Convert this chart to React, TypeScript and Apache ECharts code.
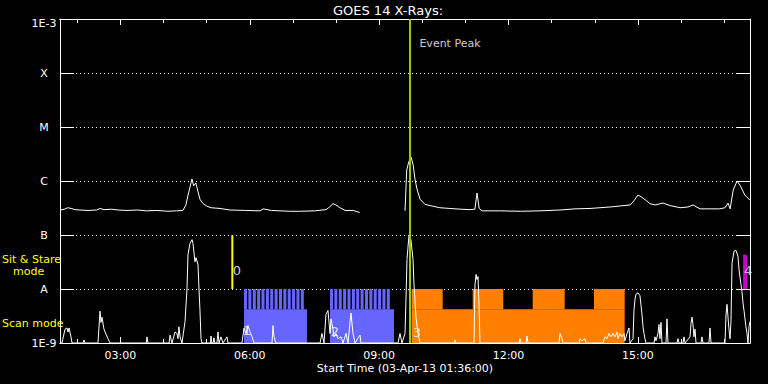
import React, { useEffect, useRef } from 'react';
import * as echarts from 'echarts';

const TITLE = 'GOES 14 X-Rays:';
const X_NAME = 'Start Time (03-Apr-13 01:36:00)';
const X_MIN = 1.6; // 01:36 in hours
const X_MAX = 17.6;
const MAJOR_HOURS = [3, 6, 9, 12, 15];
const MINOR_HOURS = [2, 4, 5, 7, 8, 10, 11, 13, 14, 16, 17];
const Y_MIN = 1e-9;
const Y_MAX = 1e-3;
const Y_LABELS = ['1E-9', 'A', 'B', 'C', 'M', 'X', '1E-3'];

// GOES long channel (1-8 A) flux, [hour, W/m^2]
const longChannel: any[] = [
  [1.60, 2.9e-7], [1.70, 3.0e-7], [1.78, 3.2e-7], [1.86, 3.1e-7], [1.95, 2.95e-7], [2.06, 2.9e-7],
  [2.25, 2.85e-7], [2.45, 2.9e-7], [2.53, 3.1e-7], [2.62, 2.95e-7], [2.80, 3.0e-7], [2.95, 2.9e-7],
  [3.15, 2.85e-7], [3.40, 2.9e-7], [3.60, 2.8e-7], [3.85, 2.85e-7], [4.10, 2.75e-7], [4.30, 2.8e-7],
  [4.45, 2.85e-7], [4.52, 3.6e-7], [4.57, 5.5e-7], [4.61, 7.5e-7], [4.66, 1.09e-6], [4.70, 8.1e-7],
  [4.75, 9.2e-7], [4.80, 6.3e-7], [4.85, 4.5e-7], [4.92, 3.8e-7], [5.01, 3.4e-7], [5.10, 3.2e-7],
  [5.31, 3.1e-7], [5.54, 2.9e-7], [5.90, 2.85e-7], [6.24, 2.8e-7], [6.31, 3.05e-7], [6.40, 2.95e-7],
  [6.50, 2.85e-7], [6.70, 2.8e-7], [6.95, 2.75e-7], [7.17, 2.75e-7], [7.50, 2.8e-7], [7.77, 2.95e-7],
  [7.85, 3.3e-7], [7.93, 3.8e-7], [8.00, 3.6e-7], [8.09, 3.2e-7], [8.21, 2.85e-7], [8.40, 2.85e-7],
  [8.55, 2.6e-7], [9.0, '-'], [9.60, 2.8e-7], [9.64, 1.6e-6], [9.69, 2.3e-6], [9.74, 2.77e-6],
  [9.79, 1.97e-6], [9.83, 1.1e-6], [9.88, 7.0e-7], [9.95, 4.6e-7], [10.06, 3.7e-7], [10.18, 3.5e-7],
  [10.41, 3.2e-7], [10.64, 3.1e-7], [10.90, 3.0e-7], [11.11, 2.95e-7], [11.22, 3.0e-7], [11.27, 6.0e-7],
  [11.32, 3.1e-7], [11.39, 2.8e-7], [11.80, 2.8e-7], [12.27, 2.75e-7], [12.73, 2.8e-7], [13.19, 2.9e-7],
  [13.54, 3.05e-7], [13.89, 3.1e-7], [14.12, 3.2e-7], [14.35, 3.3e-7], [14.59, 3.45e-7], [14.82, 3.6e-7],
  [14.91, 4.3e-7], [15.00, 5.5e-7], [15.09, 5.0e-7], [15.17, 4.5e-7], [15.28, 3.8e-7], [15.40, 3.6e-7],
  [15.58, 3.9e-7], [15.75, 3.5e-7], [15.98, 3.2e-7], [16.16, 3.3e-7], [16.28, 3.6e-7], [16.44, 3.05e-7],
  [16.67, 3.05e-7], [16.90, 3.05e-7], [17.02, 3.2e-7], [17.09, 3.9e-7], [17.14, 3.05e-7], [17.21, 6.8e-7],
  [17.30, 1.0e-6], [17.37, 8.3e-7], [17.48, 5.5e-7], [17.60, 4.4e-7],
];

// GOES short channel (0.5-4 A) flux, [hour, W/m^2]
const shortChannel: any[] = [
  [1.60, 1e-9], [1.646, 1e-9], [1.716, 1.8e-9], [1.762, 1.9e-9], [1.785, 1.6e-9], [1.809, 1.9e-9],
  [1.855, 1.3e-9], [1.878, 1e-9], [2.13, 1e-9], [2.157, 1.14e-9], [2.18, 1e-9], [2.481, 1e-9],
  [2.528, 3.9e-9], [2.551, 2.4e-9], [2.574, 3.0e-9], [2.620, 1.8e-9], [2.667, 1.46e-9], [2.713, 1.2e-9],
  [2.759, 1e-9], [3.60, 1e-9], [3.617, 1.3e-9], [3.64, 1e-9], [4.13, 1e-9], [4.151, 1.4e-9],
  [4.197, 1e-9], [4.267, 1.6e-9], [4.313, 1.5e-9], [4.336, 1.2e-9], [4.359, 2.0e-9], [4.383, 1.3e-9],
  [4.429, 1e-9], [4.499, 2.5e-9], [4.545, 1e-8], [4.568, 4.3e-8], [4.614, 7e-8], [4.661, 8.2e-8],
  [4.684, 7e-8], [4.730, 3.2e-8], [4.754, 3.8e-8], [4.800, 2.8e-8], [4.823, 1e-8], [4.846, 4e-9],
  [4.870, 1.2e-9], [4.893, 1e-9], [5.09, 1e-9], [5.101, 1.35e-9], [5.12, 1e-9], [5.15, 1e-9],
  [5.171, 1.25e-9], [5.19, 1e-9], [5.24, 1e-9], [5.264, 1.6e-9], [5.287, 1e-9], [5.333, 1.3e-9],
  [5.380, 1e-9], [5.472, 1.3e-9], [5.496, 1e-9], [5.820, 1e-9], [5.867, 1.9e-9], [5.913, 1.5e-9],
  [5.959, 2.1e-9], [6.006, 1.6e-9], [6.052, 1.3e-9], [6.099, 1e-9], [6.516, 1e-9], [6.539, 2.1e-9],
  [6.562, 1.3e-9], [6.609, 1e-9], [7.629, 1e-9], [7.675, 1.5e-9], [7.722, 1e-9], [7.768, 3.4e-9],
  [7.814, 4e-9], [7.861, 1.5e-9], [7.884, 2.8e-9], [7.930, 1.8e-9], [7.954, 1.3e-9], [8.000, 1.5e-9],
  [8.046, 1.2e-9], [8.116, 1.3e-9], [8.162, 1e-9], [8.232, 1.5e-9], [8.278, 1e-9], [8.348, 3.6e-9],
  [8.394, 1.5e-9], [8.441, 1e-9], [8.557, 1.4e-9], [8.580, 1e-9], [9.438, 1e-9], [9.484, 1.5e-9],
  [9.530, 1e-9], [9.600, 1.5e-9], [9.623, 6.5e-9], [9.646, 3.5e-8], [9.693, 1.0e-7], [9.739, 8e-8],
  [9.786, 3.5e-8], [9.809, 1.2e-8], [9.855, 3e-9], [9.901, 1.5e-9], [9.948, 1e-9], [10.74, 1e-9],
  [10.759, 1.15e-9], [10.78, 1e-9], [11.200, 1e-9], [11.223, 1.2e-8], [11.247, 1.86e-8], [11.270, 1.5e-8],
  [11.293, 1.7e-8], [11.316, 5e-9], [11.339, 1e-9], [12.25, 1e-9], [12.267, 1.2e-9], [12.29, 1e-9],
  [12.406, 1e-9], [12.429, 1.35e-9], [12.452, 1e-9], [13.171, 1e-9], [13.194, 1.5e-9], [13.241, 1.2e-9],
  [13.264, 1e-9], [13.635, 1e-9], [13.658, 1.2e-9], [13.704, 1.1e-9], [13.774, 1.2e-9], [13.797, 1e-9],
  [14.191, 1e-9], [14.238, 1.3e-9], [14.284, 1.2e-9], [14.330, 1.5e-9], [14.377, 1.3e-9], [14.423, 1.5e-9],
  [14.470, 1.3e-9], [14.516, 1.6e-9], [14.539, 1.2e-9], [14.586, 1.5e-9], [14.632, 1.3e-9], [14.678, 1.5e-9],
  [14.701, 1.1e-9], [14.748, 1.5e-9], [14.794, 1.9e-9], [14.817, 1e-9], [14.887, 1.2e-9], [14.910, 4e-9],
  [14.933, 6.5e-9], [14.956, 8e-9], [15.003, 8.5e-9], [15.049, 7.5e-9], [15.072, 5e-9], [15.096, 3.4e-9],
  [15.119, 2e-9], [15.142, 1.5e-9], [15.165, 1.2e-9], [15.188, 1e-9], [15.374, 1e-9], [15.397, 1.3e-9],
  [15.420, 1.1e-9], [15.467, 1.5e-9], [15.490, 2.2e-9], [15.513, 1.2e-9], [15.536, 2.4e-9], [15.559, 1e-9],
  [15.652, 1e-9], [15.675, 2.8e-9], [15.698, 1e-9], [15.907, 1e-9], [15.930, 1.2e-9], [15.953, 1e-9],
  [16.046, 1e-9], [16.070, 1.3e-9], [16.093, 1e-9], [16.209, 1.3e-9], [16.232, 2.3e-9], [16.255, 3e-9],
  [16.278, 2.2e-9], [16.301, 1.3e-9], [16.325, 1.8e-9], [16.348, 1e-9], [16.464, 1e-9], [16.487, 1.3e-9],
  [16.510, 1e-9], [16.649, 1e-9], [16.673, 1.9e-9], [16.696, 1e-9], [17.020, 1e-9], [17.043, 3.3e-9],
  [17.067, 5.2e-9], [17.090, 3e-9], [17.113, 1.8e-9], [17.136, 1.2e-9], [17.159, 2.5e-9], [17.183, 3e-8],
  [17.229, 5e-8], [17.275, 5.2e-8], [17.322, 4e-8], [17.345, 2.3e-8], [17.391, 1.2e-8], [17.414, 9e-9],
  [17.438, 5.5e-9], [17.461, 4e-9], [17.484, 2.8e-9], [17.507, 2e-9], [17.530, 1.5e-9], [17.554, 1e-9],
  [17.577, 2e-9], [17.600, 2.5e-9],
];

// Observation mode bars (hours) and their levels
const MODE_BASE = 1e-9;
const MODE_LOW = 4.2e-9;
const MODE_HIGH = 1e-8;
const STARE_TOP = 4.3e-8;
const TOOTH_WIDTH = 0.07;
const scanBlocks = [[5.867, 7.327], [7.861, 9.345]];
const scanTeeth = [
  5.867, 5.968, 6.070, 6.171, 6.272, 6.374, 6.475, 6.576, 6.678, 6.779, 6.880, 6.982, 7.083, 7.184,
  7.861, 7.962, 8.064, 8.165, 8.266, 8.368, 8.469, 8.570, 8.672, 8.773, 8.874, 8.976, 9.077, 9.178,
];
const orangeBlocks = [[9.753, 14.694]];
const orangeHigh = [[9.753, 10.474], [11.170, 11.879], [12.561, 13.303], [13.983, 14.694]];
const stareBlocks = [[17.44, 17.53]];

const sitStareMarker = 5.596; // hour
const eventPeak = 9.716; // hour

const eventNumbers: any[] = [
  [5.704, 2.16e-8, '0'],
  [5.936, 1.73e-9, '1'],
  [7.977, 1.66e-9, '2'],
  [9.878, 1.56e-9, '3'],
  [17.554, 2.2e-8, '4'],
];
const eventPeakLabel: any[] = [[10.643, 3.47e-4, 'Event Peak']];

const FONT = 'DejaVu Sans';

function rectRenderer(color: string) {
  return (params: any, api: any) => {
    const a = api.coord([api.value(0), api.value(3)]);
    const b = api.coord([api.value(1), api.value(2)]);
    return {
      type: 'rect',
      shape: { x: a[0], y: a[1], width: b[0] - a[0], height: b[1] - a[1] },
      style: { fill: color },
    };
  };
}

export default function App() {
  const ref = useRef<HTMLDivElement>(null);

  useEffect(() => {
    if (!ref.current) return;
    const chart = echarts.init(ref.current, null, { renderer: 'svg' });

    const pad = (n: number) => (n < 10 ? '0' + n : '' + n);
    const xCommon = {
      type: 'value',
      min: X_MIN,
      max: X_MAX,
      splitLine: { show: false },
      axisLine: { show: true, lineStyle: { color: '#fff', width: 1 } },
    };
    const yLabel = (v: number) => {
      const idx = Math.round(Math.log10(v)) + 9;
      if (idx >= 6) return '';
      return '{n|' + (Y_LABELS[idx] ?? '') + '}';
    };

    const blueData = scanBlocks
      .map(([s, e]) => [s, e, MODE_BASE, MODE_LOW])
      .concat(scanTeeth.map((s) => [s, s + TOOTH_WIDTH, MODE_LOW, MODE_HIGH]));
    const orangeData = orangeBlocks
      .map(([s, e]) => [s, e, MODE_BASE, MODE_LOW])
      .concat(orangeHigh.map(([s, e]) => [s, e, MODE_LOW, MODE_HIGH]));
    const magentaData = stareBlocks.map(([s, e]) => [s, e, MODE_HIGH, STARE_TOP]);

    chart.setOption({
      animation: false,
      backgroundColor: '#000',
      grid: { left: 60, top: 19, width: 690, height: 324 },
      xAxis: [
        {
          ...xCommon,
          position: 'bottom',
          axisTick: { show: true, inside: true, length: 6, customValues: MAJOR_HOURS, lineStyle: { color: '#fff' } },
          axisLabel: {
            show: true,
            customValues: MAJOR_HOURS,
            formatter: (v: number) => pad(Math.round(v)) + ':00',
            color: '#fff',
            fontSize: 11,
            fontFamily: FONT,
            margin: 7,
          },
        },
        {
          ...xCommon,
          position: 'top',
          axisTick: { show: true, inside: true, length: 6, customValues: MAJOR_HOURS, lineStyle: { color: '#fff' } },
          axisLabel: { show: false },
        },
        {
          ...xCommon,
          position: 'bottom',
          axisTick: { show: true, inside: true, length: 4, customValues: MINOR_HOURS, lineStyle: { color: '#fff' } },
          axisLabel: { show: false },
        },
        {
          ...xCommon,
          position: 'top',
          axisTick: { show: true, inside: true, length: 4, customValues: MINOR_HOURS, lineStyle: { color: '#fff' } },
          axisLabel: { show: false },
        },
      ],
      yAxis: [
        {
          type: 'log',
          logBase: 10,
          min: Y_MIN,
          max: Y_MAX,
          position: 'left',
          axisLine: { show: true, lineStyle: { color: '#fff' } },
          axisTick: { show: true, inside: true, length: 14, lineStyle: { color: '#fff' } },
          axisLabel: {
            formatter: yLabel,
            color: '#ffffff',
            fontSize: 11,
            fontFamily: FONT,
            align: 'center',
            margin: 16,
            showMinLabel: true,
            showMaxLabel: true,
            rich: { n: { color: '#ffffff', fontSize: 11, fontFamily: FONT } },
          },
          splitLine: { show: true, lineStyle: { color: '#fff', type: [1, 3], width: 1 } },
        },
        {
          type: 'log',
          logBase: 10,
          min: Y_MIN,
          max: Y_MAX,
          position: 'right',
          axisLine: { show: true, lineStyle: { color: '#fff' } },
          axisTick: { show: true, inside: true, length: 14, lineStyle: { color: '#fff' } },
          axisLabel: { show: false },
          splitLine: { show: false },
        },
      ],
      series: [
        {
          type: 'custom',
          name: 'scan',
          renderItem: rectRenderer('#6666ff'),
          data: blueData,
          encode: { x: [0, 1], y: [2, 3] },
          clip: true,
          z: 1,
        },
        {
          type: 'custom',
          name: 'orange',
          renderItem: rectRenderer('#ff8000'),
          data: orangeData,
          encode: { x: [0, 1], y: [2, 3] },
          clip: true,
          z: 1,
        },
        {
          type: 'custom',
          name: 'stare',
          renderItem: rectRenderer('#cc00cc'),
          data: magentaData,
          encode: { x: [0, 1], y: [2, 3] },
          clip: true,
          z: 1,
        },
        {
          type: 'line',
          name: 'long',
          data: longChannel,
          symbol: 'none',
          connectNulls: false,
          lineStyle: { color: '#fff', width: 1 },
          clip: true,
          z: 3,
        },
        {
          type: 'line',
          name: 'short',
          data: shortChannel,
          symbol: 'none',
          lineStyle: { color: '#fff', width: 1 },
          clip: true,
          z: 3,
        },
        {
          type: 'line',
          name: 'sitstare',
          data: [[sitStareMarker, MODE_HIGH], [sitStareMarker, 1e-7]],
          symbol: 'none',
          lineStyle: { color: '#ffff00', width: 2 },
          z: 4,
        },
        {
          type: 'line',
          name: 'peak',
          data: [[eventPeak, Y_MIN], [eventPeak, Y_MAX]],
          symbol: 'none',
          lineStyle: { color: '#99cc00', width: 2 },
          z: 5,
        },
        {
          type: 'scatter',
          name: 'numbers',
          data: eventNumbers,
          symbolSize: 1,
          itemStyle: { color: 'rgba(0,0,0,0)' },
          label: {
            show: true,
            position: 'inside',
            formatter: (p: any) => p.data[2],
            color: '#fff',
            fontSize: 13,
            fontFamily: FONT,
          },
          z: 6,
        },
        {
          type: 'scatter',
          name: 'peakLabel',
          data: eventPeakLabel,
          symbolSize: 1,
          itemStyle: { color: 'rgba(0,0,0,0)' },
          label: {
            show: true,
            position: 'inside',
            formatter: (p: any) => p.data[2],
            color: '#fff',
            fontSize: 11,
            fontFamily: FONT,
          },
          z: 6,
        },
      ],
      graphic: [
        {
          type: 'text',
          x: 388,
          y: 10.5,
          style: { text: TITLE, fill: '#fff', font: '13px "DejaVu Sans"', textAlign: 'center', textVerticalAlign: 'middle' },
        },
        {
          type: 'text',
          x: 44,
          y: 23,
          style: { text: Y_LABELS[6], fill: '#fff', font: '11px "DejaVu Sans"', textAlign: 'center', textVerticalAlign: 'middle' },
        },
        {
          type: 'text',
          x: 405,
          y: 368,
          style: { text: X_NAME, fill: '#fff', font: '11px "DejaVu Sans"', textAlign: 'center', textVerticalAlign: 'middle' },
        },
        {
          type: 'text',
          x: 2,
          y: 259,
          style: { text: 'Sit & Stare', fill: '#ffff00', font: '11px "DejaVu Sans"', textAlign: 'left', textVerticalAlign: 'middle' },
        },
        {
          type: 'text',
          x: 13,
          y: 271,
          style: { text: 'mode', fill: '#ffff00', font: '11px "DejaVu Sans"', textAlign: 'left', textVerticalAlign: 'middle' },
        },
        {
          type: 'text',
          x: 2,
          y: 323,
          style: { text: 'Scan mode', fill: '#ffff00', font: '11px "DejaVu Sans"', textAlign: 'left', textVerticalAlign: 'middle' },
        },
      ],
    });

    return () => chart.dispose();
  }, []);

  return (
    <div
      ref={ref}
      style={{ position: 'fixed', left: 0, top: 0, width: 768, height: 384, background: '#000' }}
    />
  );
}
